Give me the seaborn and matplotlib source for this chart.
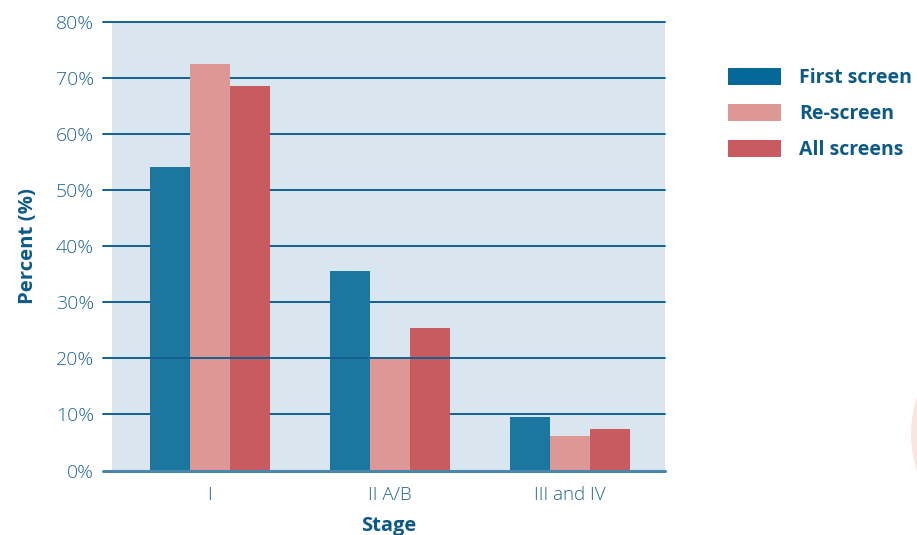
import matplotlib
matplotlib.use("Agg")
import matplotlib.pyplot as plt
from matplotlib.patches import Patch, Ellipse
from matplotlib.ticker import FuncFormatter
import seaborn as sns
import pandas as pd

# Share of detected cancers by stage, per screening round
stages = ["I", "II A/B", "III and IV"]
series = ["First screen", "Re-screen", "All screens"]
first_screen = [54.2, 35.6, 9.6]
re_screen = [72.5, 20.0, 6.2]
all_screens = [68.6, 25.4, 7.4]
y_ticks = [0, 10, 20, 30, 40, 50, 60, 70, 80]

colors = ["#1c77a0", "#dd9895", "#c75b5f"]
legend_colors = ["#056898", "#dd9895", "#c75b5f"]
bg = "#d9e5ef"
grid_col = "#14608f"
tick_col = "#22668f"
label_col = "#0e5a87"

df = pd.DataFrame({
    "Stage": stages * 3,
    "Screen": [s for s in series for _ in stages],
    "Percent": first_screen + re_screen + all_screens,
})

sns.set_theme(style="white")
plt.rcParams["font.family"] = ["Open Sans", "DejaVu Sans"]

fig = plt.figure(figsize=(9.17, 5.35), dpi=100)
ax = fig.add_axes([112 / 917, 1 - 470.5 / 535, 553 / 917, 448.5 / 535])
ax.set_facecolor(bg)

sns.barplot(data=df, x="Stage", y="Percent", hue="Screen", order=stages,
            hue_order=series, palette=colors, saturation=1, width=0.667,
            ax=ax, legend=False, zorder=3, linewidth=0)

ax.set_xlim(-0.544, 2.528)
ax.set_ylim(0, 80)
ax.set_yticks(y_ticks)
ax.yaxis.set_major_formatter(FuncFormatter(lambda v, p: f"{v:.0f}%"))

# horizontal rules that run out past the left edge like tick marks
for v in y_ticks[1:]:
    ax.axhline(v, xmin=-9 / 553, xmax=1, color=grid_col, lw=1.4,
               zorder=4 if v == 20 else 1, clip_on=False)
ax.axhline(0, xmin=-9 / 553, xmax=1, color="#4a86ad", lw=2.2, zorder=5,
           clip_on=False)

for s in ax.spines.values():
    s.set_visible(False)
ax.tick_params(axis="y", length=0, pad=13, labelsize=14, labelcolor=tick_col)
ax.tick_params(axis="x", length=0, pad=11, labelsize=13.5, labelcolor=tick_col)
for t in ax.get_xticklabels() + ax.get_yticklabels():
    t.set_fontweight("light")

ax.set_xlabel("Stage", fontsize=14.5, fontweight="bold", color=label_col,
              labelpad=9)
ax.set_ylabel("Percent (%)", fontsize=14.7, fontweight="bold", color=label_col,
              labelpad=13)

handles = [Patch(facecolor=c, edgecolor="none") for c in legend_colors]
fig.legend(handles, series, loc="upper left",
           bbox_to_anchor=(728 / 917, 1 - 68 / 535), frameon=False,
           borderaxespad=0, borderpad=0, handlelength=2.75, handleheight=1.0,
           handletextpad=0.92, labelspacing=0.8,
           prop={"weight": "bold", "size": 14}, labelcolor=label_col)

# faint decorative disc whose edge peeks in at the right border
fig.patches.append(Ellipse((1028 / 917, 1 - 434 / 535), 234 / 917, 234 / 535,
                           transform=fig.transFigure, facecolor="#fbe4e1",
                           edgecolor="none", zorder=0))

fig.savefig("out.png", dpi=100)
